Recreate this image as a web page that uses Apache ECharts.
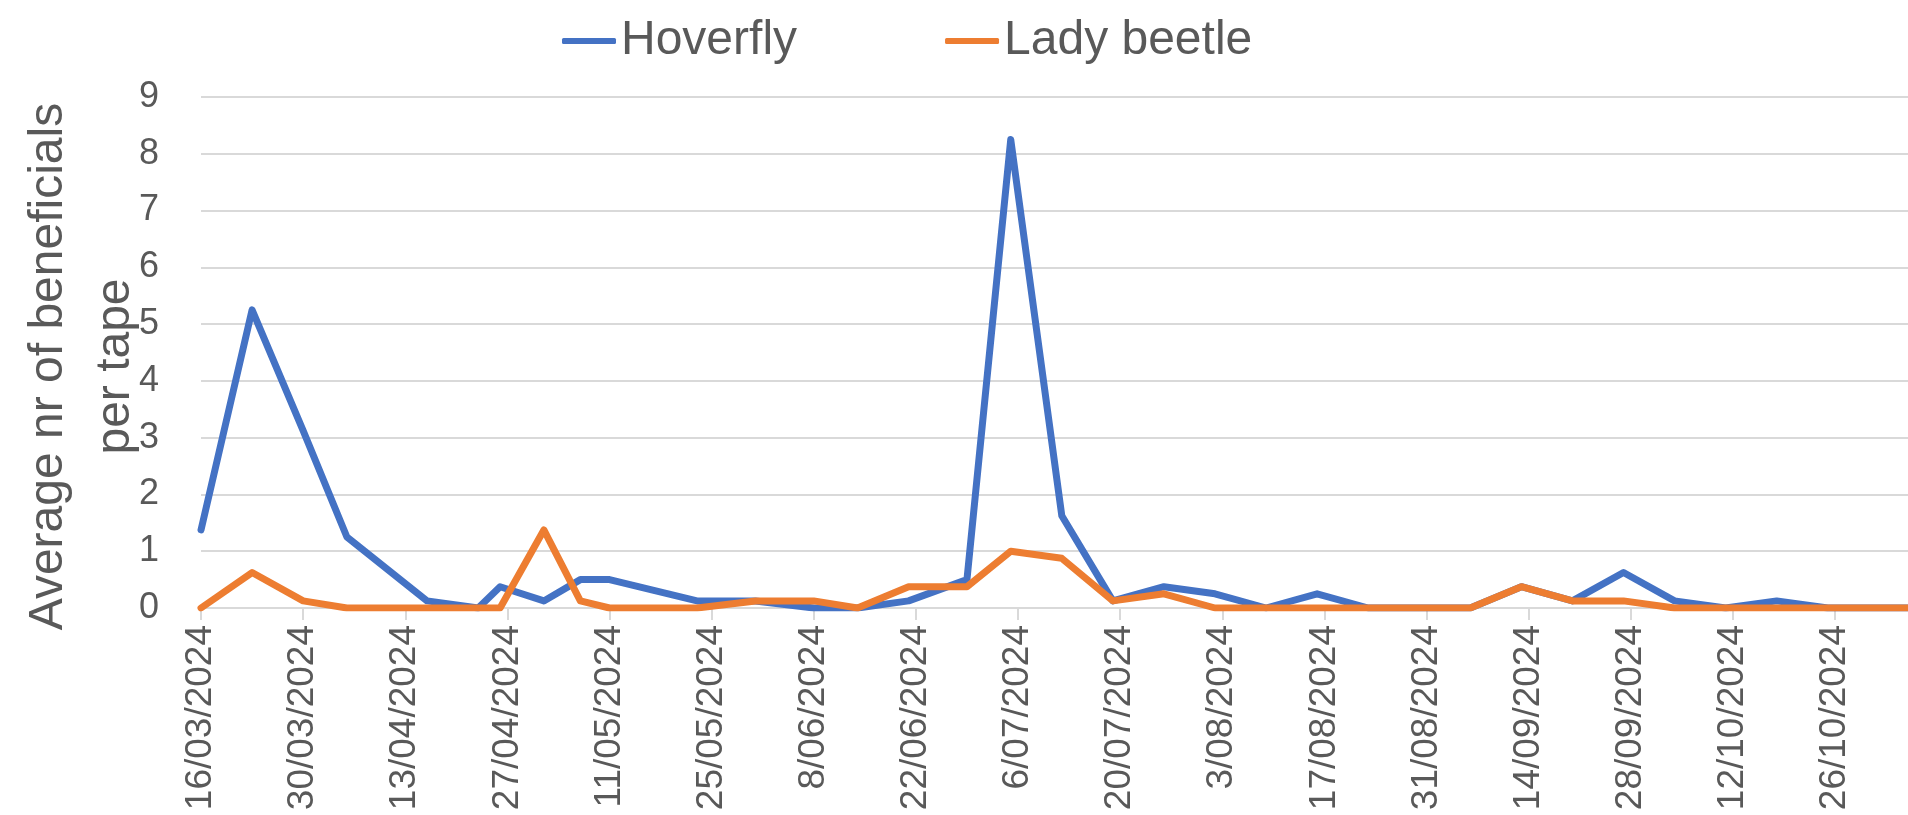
<!DOCTYPE html>
<html>
<head>
<meta charset="utf-8">
<script src="https://cdn.jsdelivr.net/npm/echarts@6/dist/echarts.min.js"></script>
<style>
  html, body { margin: 0; padding: 0; background: #ffffff; }
  #chart { width: 1908px; height: 815px; }
</style>
</head>
<body>
<div id="chart"></div>
<script>
// ---- data ----
const axisStartDate = '2024-03-16';
const tickStepDays = 14;
const yTicks = [0, 1, 2, 3, 4, 5, 6, 7, 8, 9];
const seriesNames = ['Hoverfly', 'Lady beetle'];
const sampleDates = [
  '2024-03-16', '2024-03-23', '2024-03-30', '2024-04-05', '2024-04-16', '2024-04-23',
  '2024-04-26', '2024-05-02', '2024-05-07', '2024-05-11', '2024-05-23', '2024-05-31',
  '2024-06-08', '2024-06-14', '2024-06-21', '2024-06-29', '2024-07-05', '2024-07-12',
  '2024-07-19', '2024-07-26', '2024-08-02', '2024-08-09', '2024-08-16', '2024-08-23',
  '2024-08-30', '2024-09-06', '2024-09-13', '2024-09-20', '2024-09-27', '2024-10-04',
  '2024-10-11', '2024-10-18', '2024-10-25', '2024-11-01', '2024-11-05'
];
const hoverfly = [
  1.375, 5.25, 3.125, 1.25, 0.125, 0,
  0.375, 0.125, 0.5, 0.5, 0.125, 0.125,
  0, 0, 0.125, 0.5, 8.25, 1.625,
  0.125, 0.375, 0.25, 0, 0.25, 0,
  0, 0, 0.375, 0.125, 0.625, 0.125,
  0, 0.125, 0, 0, 0
];
const ladyBeetle = [
  0, 0.625, 0.125, 0, 0, 0,
  0, 1.375, 0.125, 0, 0, 0.125,
  0.125, 0, 0.375, 0.375, 1.0, 0.875,
  0.125, 0.25, 0, 0, 0, 0,
  0, 0, 0.375, 0.125, 0.125, 0,
  0, 0, 0, 0, 0
];

// ---- helpers ----
const DAY = 86400000;
function parseUTC(s) { const p = s.split('-').map(Number); return Date.UTC(p[0], p[1] - 1, p[2]); }
const t0 = parseUTC(axisStartDate);
const dayOffsets = sampleDates.map(d => Math.round((parseUTC(d) - t0) / DAY));
function fmtDay(v) {
  const d = new Date(t0 + v * DAY);
  const mm = String(d.getUTCMonth() + 1).padStart(2, '0');
  return d.getUTCDate() + '/' + mm + '/' + d.getUTCFullYear();
}
const xMax = dayOffsets[dayOffsets.length - 1];

const FONT = '"Liberation Sans", Arial, sans-serif';
const TXT = '#595959';
const GRID = '#D9D9D9';

const chart = echarts.init(document.getElementById('chart'), null, { renderer: 'canvas' });
chart.setOption({
  animation: false,
  backgroundColor: '#ffffff',
  textStyle: { fontFamily: FONT },
  legend: {
    left: 557,
    top: 12,
    icon: 'roundRect',
    itemWidth: 54,
    itemHeight: 6,
    itemGap: 148,
    textStyle: { fontSize: 48, color: TXT, fontFamily: FONT },
    data: seriesNames
  },
  grid: { left: 201, right: 0, top: 97, bottom: 207, containLabel: false, outerBoundsMode: 'none' },
  xAxis: {
    type: 'value',
    min: 0,
    max: xMax,
    interval: tickStepDays,
    axisLine: { show: true, lineStyle: { color: GRID, width: 2 } },
    axisTick: { show: true, length: 12, lineStyle: { color: GRID, width: 2 } },
    splitLine: { show: false },
    axisLabel: {
      rotate: 90,
      margin: 17,
      fontSize: 37,
      color: TXT,
      fontFamily: FONT,
      showMaxLabel: false,
      formatter: v => (v % tickStepDays === 0 ? fmtDay(v) : '')
    }
  },
  yAxis: {
    type: 'value',
    min: yTicks[0],
    max: yTicks[yTicks.length - 1],
    interval: 1,
    name: 'Average nr of beneficials\nper tape',
    nameLocation: 'middle',
    nameRotate: 90,
    nameGap: 52,
    nameMoveOverlap: false,
    nameTextStyle: { fontSize: 48, color: TXT, fontFamily: FONT, lineHeight: 67, padding: [0, 28, 0, 0] },
    axisLine: { show: false },
    axisTick: { show: false },
    splitLine: { show: true, lineStyle: { color: GRID, width: 2 } },
    axisLabel: { margin: 42, fontSize: 36, color: TXT, fontFamily: FONT }
  },
  series: [
    {
      name: seriesNames[0],
      type: 'line',
      data: dayOffsets.map((d, i) => [d, hoverfly[i]]),
      showSymbol: false,
      symbol: 'none',
      color: '#4472C4',
      lineStyle: { width: 7, color: '#4472C4', cap: 'round', join: 'round' }
    },
    {
      name: seriesNames[1],
      type: 'line',
      data: dayOffsets.map((d, i) => [d, ladyBeetle[i]]),
      showSymbol: false,
      symbol: 'none',
      color: '#ED7D31',
      lineStyle: { width: 7, color: '#ED7D31', cap: 'round', join: 'round' }
    }
  ]
});
</script>
</body>
</html>
